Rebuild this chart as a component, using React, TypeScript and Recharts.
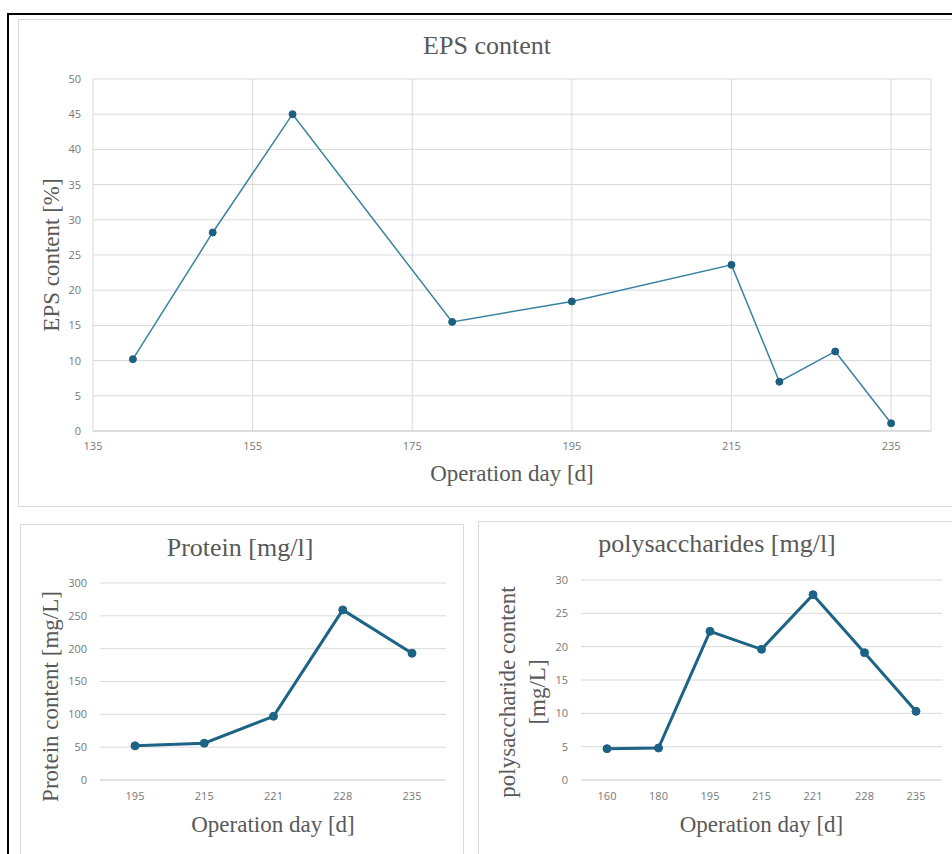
import { LineChart, Line, XAxis, YAxis, CartesianGrid, Label } from 'recharts';

const epsDays = [140, 150, 160, 180, 195, 215, 221, 228, 235];
const epsContent = [10.2, 28.2, 45.0, 15.5, 18.4, 23.6, 7.0, 11.3, 1.1];
const epsDayTicks = [135, 155, 175, 195, 215, 235];
const epsTicks = [0, 5, 10, 15, 20, 25, 30, 35, 40, 45, 50];

const proteinDays = ['195', '215', '221', '228', '235'];
const proteinContent = [52, 56, 97, 259, 193];
const proteinTicks = [0, 50, 100, 150, 200, 250, 300];

const polyDays = ['160', '180', '195', '215', '221', '228', '235'];
const polyContent = [4.7, 4.8, 22.3, 19.6, 27.8, 19.1, 10.3];
const polyTicks = [0, 5, 10, 15, 20, 25, 30];

const epsData = epsDays.map((day, i) => ({ day, value: epsContent[i] }));
const proteinData = proteinDays.map((day, i) => ({ day, value: proteinContent[i] }));
const polyData = polyDays.map((day, i) => ({ day, value: polyContent[i] }));

const serif = '"Liberation Serif", "Times New Roman", serif';
const textGrey = '#595959';
const gridGrey = '#d9d9d9';
const tickStyle = { fontSize: 11, fill: '#777777', fontFamily: '"Open Sans", sans-serif' };

// rotated y title, drawn from the axis viewBox
function YTitle({ viewBox, lines, cx, shift }: any) {
    const { x, y, height } = viewBox;
    return (
        <text
            transform={`translate(${x + cx},${y + height / 2 + shift}) rotate(-90)`}
            textAnchor="middle"
            fill={textGrey}
            fontSize={23}
            fontFamily={serif}
        >
            {lines.map((l: string, i: number) => (
                <tspan key={i} x={0} dy={i === 0 ? 0 : 30}>{l}</tspan>
            ))}
        </text>
    );
}

function Title({ text, left, top, width }: { text: string; left: number; top: number; width: number }) {
    return (
        <div style={{ position: 'absolute', left, top, width, textAlign: 'center', fontFamily: serif, fontSize: 26, lineHeight: '26px', color: textGrey }}>
            {text}
        </div>
    );
}

const xTitle = (offset: number) => ({
    value: 'Operation day [d]',
    position: 'insideBottom' as const,
    offset,
    fill: textGrey,
    fontSize: 23,
    fontFamily: serif,
});

export default function App() {
    return (
        <div style={{ position: 'absolute', left: 0, top: 0, width: 952, height: 854, overflow: 'hidden', background: '#fff' }}>
            <div style={{ position: 'absolute', left: 7, top: 13, width: 1000, height: 900, borderLeft: '2px solid #000', borderTop: '2px solid #000' }} />

            {/* EPS panel */}
            <div style={{ position: 'absolute', left: 18, top: 19, width: 1000, height: 486, border: `1px solid ${gridGrey}` }} />
            <Title text="EPS content" left={18} top={33} width={938} />
            <div style={{ position: 'absolute', left: 18, top: 19 }}>
                <LineChart width={934} height={487} data={epsData} margin={{ top: 60, right: 21, left: 0, bottom: 0 }}>
                    <CartesianGrid stroke={gridGrey} />
                    <XAxis
                        dataKey="day"
                        type="number"
                        domain={[135, 240]}
                        ticks={epsDayTicks}
                        interval={0}
                        height={75}
                        tickLine={false}
                        tickMargin={5}
                        axisLine={{ stroke: '#cfcfcf' }}
                        tick={tickStyle}
                        label={xTitle(25)}
                    />
                    <YAxis
                        domain={[0, 50]}
                        ticks={epsTicks}
                        interval={0}
                        width={75}
                        tickLine={false}
                        axisLine={false}
                        tickMargin={6}
                        tick={tickStyle}
                        label={<YTitle lines={['EPS content [%]']} cx={41} shift={0} />}
                    />
                    <Line
                        dataKey="value"
                        stroke="#3a82a1"
                        strokeWidth={1.5}
                        dot={{ r: 3.5, fill: '#1d5f7e', stroke: '#1d5f7e', strokeWidth: 1 }}
                        isAnimationActive={false}
                    />
                </LineChart>
            </div>

            {/* Protein panel */}
            <div style={{ position: 'absolute', left: 20, top: 524, width: 442, height: 400, border: `1px solid ${gridGrey}` }} />
            <Title text="Protein [mg/l]" left={20} top={535} width={440} />
            <div style={{ position: 'absolute', left: 20, top: 524 }}>
                <LineChart width={443} height={330} data={proteinData} margin={{ top: 59, right: 17, left: 0, bottom: 0 }}>
                    <CartesianGrid stroke={gridGrey} vertical={false} />
                    <XAxis
                        dataKey="day"
                        padding={{ left: 35, right: 34 }}
                        height={74}
                        tickLine={false}
                        tickMargin={6}
                        interval={0}
                        axisLine={{ stroke: gridGrey }}
                        tick={tickStyle}
                        label={xTitle(22)}
                    />
                    <YAxis
                        domain={[0, 300]}
                        ticks={proteinTicks}
                        interval={0}
                        width={80}
                        tickLine={false}
                        axisLine={false}
                        tickMargin={7}
                        tick={tickStyle}
                        label={<YTitle lines={['Protein content [mg/L]']} cx={38} shift={15} />}
                    />
                    <Line
                        dataKey="value"
                        stroke="#1d6385"
                        strokeWidth={3}
                        dot={{ r: 4, fill: '#1d6385', stroke: '#1d6385', strokeWidth: 1 }}
                        isAnimationActive={false}
                    />
                </LineChart>
            </div>

            {/* Polysaccharide panel */}
            <div style={{ position: 'absolute', left: 478, top: 521, width: 600, height: 400, border: `1px solid ${gridGrey}` }} />
            <Title text="polysaccharides [mg/l]" left={478} top={531} width={478} />
            <div style={{ position: 'absolute', left: 478, top: 521 }}>
                <LineChart width={474} height={333} data={polyData} margin={{ top: 59, right: 10, left: 0, bottom: 0 }}>
                    <CartesianGrid stroke={gridGrey} vertical={false} />
                    <XAxis
                        dataKey="day"
                        padding={{ left: 26, right: 26 }}
                        height={74}
                        tickLine={false}
                        tickMargin={6}
                        interval={0}
                        axisLine={{ stroke: gridGrey }}
                        tick={tickStyle}
                        label={xTitle(22)}
                    />
                    <YAxis
                        domain={[0, 30]}
                        ticks={polyTicks}
                        interval={0}
                        width={103}
                        tickLine={false}
                        axisLine={false}
                        tickMargin={7}
                        tick={tickStyle}
                        label={<YTitle lines={['polysaccharide content', '[mg/L]']} cx={37} shift={12} />}
                    />
                    <Line
                        dataKey="value"
                        stroke="#1d6385"
                        strokeWidth={3}
                        dot={{ r: 4, fill: '#1d6385', stroke: '#1d6385', strokeWidth: 1 }}
                        isAnimationActive={false}
                    />
                </LineChart>
            </div>
        </div>
    );
}
